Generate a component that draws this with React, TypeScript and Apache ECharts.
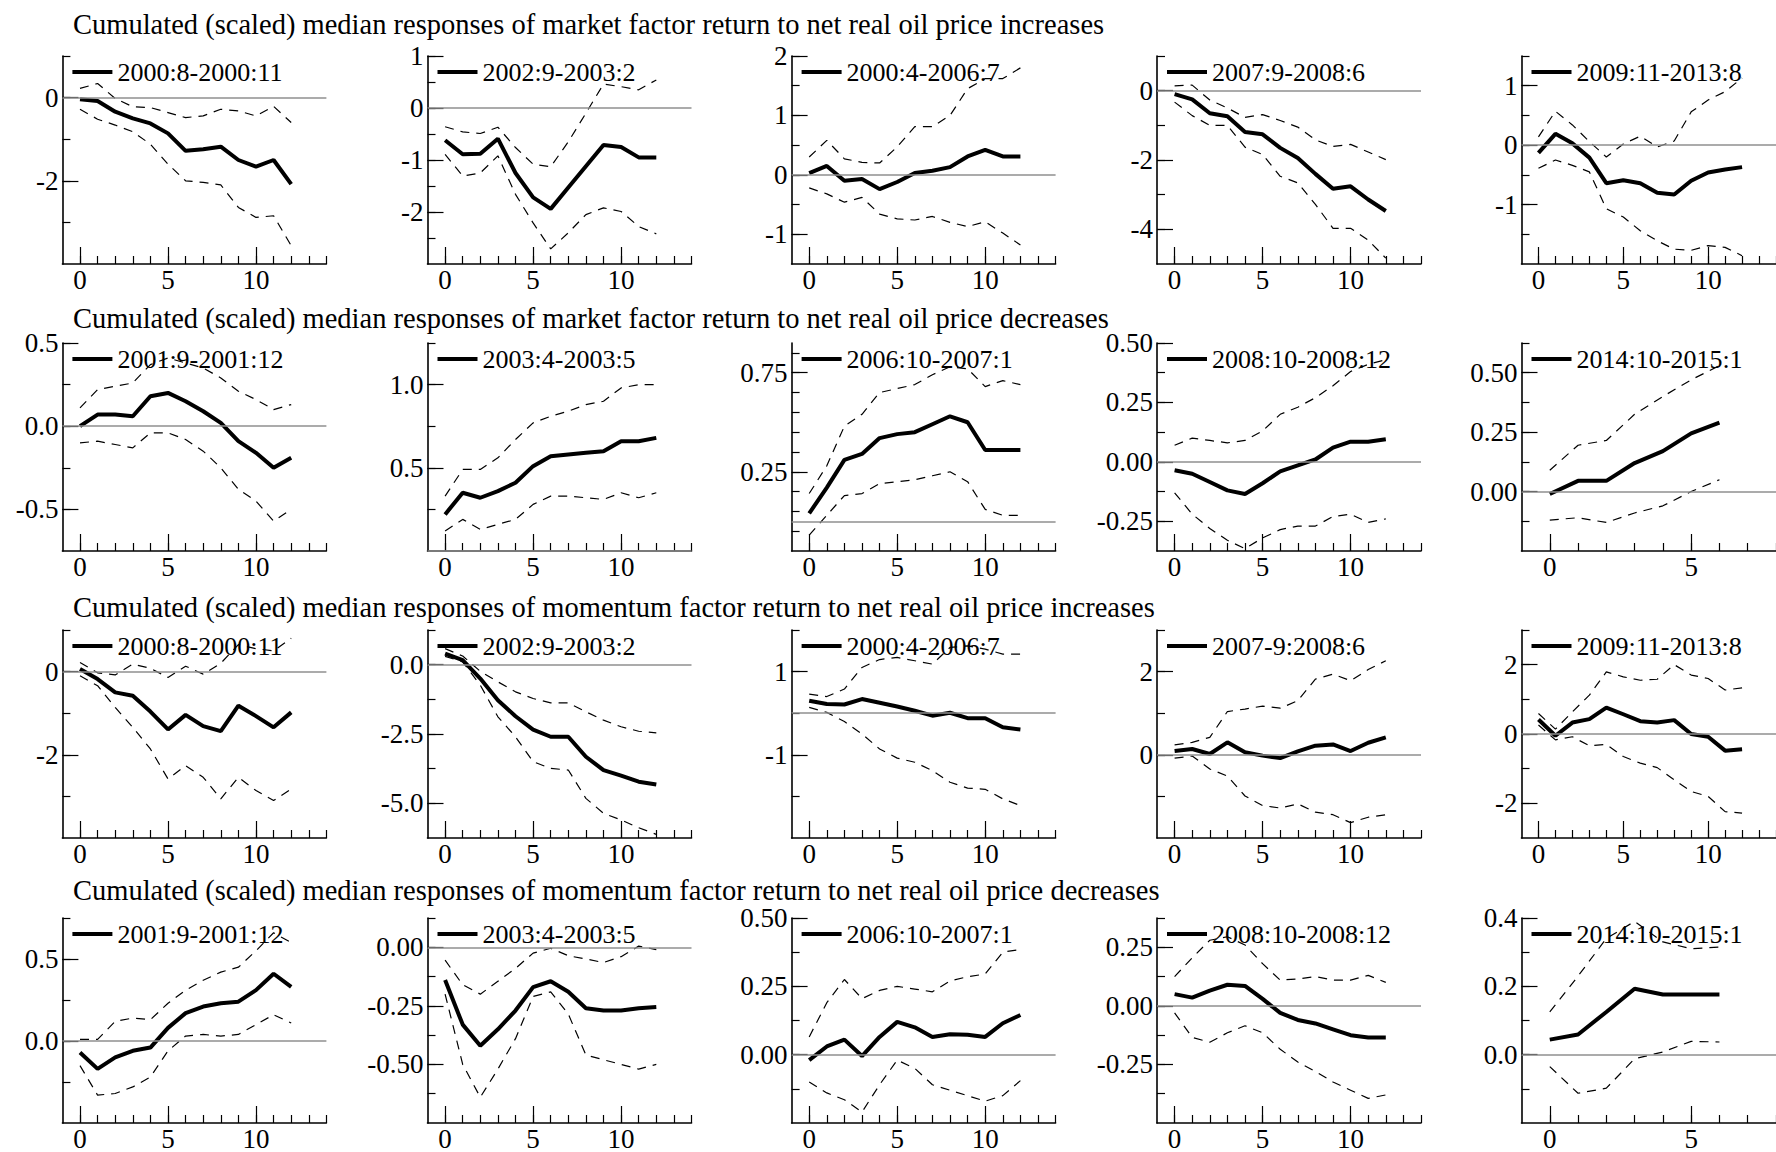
import React, { useEffect, useRef } from "react";
import * as echarts from "echarts";

const horizons = [0, 1, 2, 3, 4, 5, 6, 7, 8, 9, 10, 11, 12];

const rowTitles = [
  "Cumulated (scaled) median responses of market factor return to net real oil price increases",
  "Cumulated (scaled) median responses of market factor return to net real oil price decreases",
  "Cumulated (scaled) median responses of momentum factor return to net real oil price increases",
  "Cumulated (scaled) median responses of momentum factor return to net real oil price decreases",
];

const increasePeriods = ["2000:8-2000:11", "2002:9-2003:2", "2000:4-2006:7", "2007:9-2008:6", "2009:11-2013:8"];
const decreasePeriods = ["2001:9-2001:12", "2003:4-2003:5", "2006:10-2007:1", "2008:10-2008:12", "2014:10-2015:1"];
const momentumIncreasePeriods = ["2000:8-2000:11", "2002:9-2003:2", "2000:4-2006:7", "2007-9:2008:6", "2009:11-2013:8"];

// ---- Row 1: market factor, oil price increases
const marketIncreaseMedian = [
  [-0.04, -0.08, -0.34, -0.5, -0.62, -0.86, -1.28, -1.24, -1.18, -1.5, -1.66, -1.5, -2.08],
  [-0.62, -0.89, -0.88, -0.59, -1.25, -1.72, -1.94, -1.53, -1.12, -0.71, -0.75, -0.95, -0.95],
  [0.03, 0.15, -0.1, -0.07, -0.24, -0.12, 0.03, 0.07, 0.13, 0.31, 0.42, 0.31, 0.31],
  [-0.1, -0.25, -0.65, -0.74, -1.19, -1.26, -1.65, -1.94, -2.4, -2.83, -2.76, -3.14, -3.47],
  [-0.13, 0.19, 0.03, -0.21, -0.64, -0.59, -0.64, -0.8, -0.83, -0.6, -0.46, -0.41, -0.37],
];
const marketIncreaseUpper = [
  [0.22, 0.34, -0.02, -0.22, -0.24, -0.36, -0.48, -0.44, -0.28, -0.32, -0.44, -0.21, -0.6],
  [-0.36, -0.46, -0.49, -0.37, -0.76, -1.08, -1.13, -0.65, -0.1, 0.46, 0.41, 0.35, 0.54],
  [0.3, 0.58, 0.27, 0.21, 0.2, 0.47, 0.81, 0.81, 1.0, 1.45, 1.62, 1.62, 1.8],
  [0.14, 0.16, -0.27, -0.5, -0.77, -0.69, -0.86, -1.05, -1.42, -1.61, -1.55, -1.77, -1.99],
  [0.14, 0.57, 0.34, 0.06, -0.2, 0.02, 0.15, -0.03, 0.07, 0.56, 0.76, 0.9, 1.13],
];
const marketIncreaseLower = [
  [-0.28, -0.52, -0.66, -0.82, -1.12, -1.6, -2.0, -2.04, -2.1, -2.64, -2.88, -2.84, -3.56],
  [-0.89, -1.31, -1.25, -0.92, -1.66, -2.21, -2.71, -2.4, -2.05, -1.92, -1.99, -2.28, -2.42],
  [-0.22, -0.32, -0.46, -0.38, -0.66, -0.74, -0.76, -0.7, -0.8, -0.87, -0.79, -0.98, -1.18],
  [-0.33, -0.72, -1.0, -1.0, -1.63, -1.84, -2.47, -2.66, -3.28, -3.97, -3.97, -4.31, -4.83],
  [-0.39, -0.25, -0.34, -0.45, -1.07, -1.21, -1.44, -1.61, -1.75, -1.77, -1.69, -1.72, -1.86],
];

// ---- Row 2: market factor, oil price decreases
const marketDecreaseMedian = [
  [0.0, 0.07, 0.07, 0.06, 0.18, 0.2, 0.15, 0.09, 0.02, -0.09, -0.16, -0.25, -0.19],
  [0.22, 0.35, 0.32, 0.36, 0.41, 0.51, 0.57, 0.58, 0.59, 0.6, 0.66, 0.66, 0.68],
  [0.04, 0.17, 0.31, 0.34, 0.42, 0.44, 0.45, 0.49, 0.53, 0.5, 0.36, 0.36, 0.36],
  [-0.035, -0.05, -0.085, -0.12, -0.135, -0.09, -0.04, -0.015, 0.01, 0.06, 0.085, 0.085, 0.095],
  [-0.01, 0.045, 0.045, 0.12, 0.17, 0.245, 0.29],
];
const marketDecreaseUpper = [
  [0.11, 0.22, 0.24, 0.26, 0.37, 0.41, 0.38, 0.35, 0.29, 0.21, 0.16, 0.1, 0.13],
  [0.33, 0.49, 0.49, 0.56, 0.67, 0.77, 0.81, 0.84, 0.88, 0.9, 0.98, 1.0, 1.0],
  [0.14, 0.28, 0.48, 0.54, 0.65, 0.67, 0.69, 0.74, 0.78, 0.77, 0.68, 0.71, 0.69],
  [0.07, 0.1, 0.09, 0.08, 0.09, 0.13, 0.2, 0.23, 0.27, 0.32, 0.38, 0.41, 0.43],
  [0.09, 0.195, 0.215, 0.325, 0.4, 0.47, 0.53],
];
const marketDecreaseLower = [
  [-0.1, -0.09, -0.11, -0.13, -0.04, -0.04, -0.08, -0.15, -0.25, -0.38, -0.45, -0.57, -0.5],
  [0.12, 0.19, 0.13, 0.16, 0.19, 0.28, 0.33, 0.33, 0.32, 0.31, 0.35, 0.32, 0.35],
  [-0.07, 0.03, 0.13, 0.14, 0.19, 0.2, 0.21, 0.23, 0.25, 0.2, 0.06, 0.03, 0.03],
  [-0.13, -0.22, -0.28, -0.33, -0.365, -0.32, -0.285, -0.27, -0.27, -0.23, -0.22, -0.255, -0.24],
  [-0.12, -0.11, -0.13, -0.09, -0.06, 0.0, 0.05],
];

// ---- Row 3: momentum factor, oil price increases
const momentumIncreaseMedian = [
  [0.06, -0.18, -0.5, -0.58, -0.96, -1.39, -1.04, -1.31, -1.43, -0.82, -1.07, -1.34, -0.98],
  [0.4, 0.16, -0.5, -1.28, -1.86, -2.34, -2.6, -2.6, -3.32, -3.8, -4.0, -4.22, -4.32],
  [0.3, 0.22, 0.21, 0.34, 0.25, 0.16, 0.06, -0.06, 0.01, -0.12, -0.12, -0.34, -0.39],
  [0.09, 0.14, 0.02, 0.3, 0.06, -0.02, -0.08, 0.08, 0.22, 0.25, 0.09, 0.29, 0.42],
  [0.42, -0.05, 0.33, 0.43, 0.76, 0.57, 0.37, 0.33, 0.4, 0.0, -0.08, -0.48, -0.44],
];
const momentumIncreaseUpper = [
  [0.22, -0.03, -0.08, 0.18, 0.08, -0.14, 0.13, -0.06, 0.2, 0.65, 0.55, 0.5, 0.8],
  [0.58, 0.31, -0.24, -0.62, -0.98, -1.22, -1.38, -1.38, -1.7, -2.0, -2.24, -2.4, -2.46],
  [0.46, 0.4, 0.58, 1.1, 1.29, 1.34, 1.26, 1.18, 1.58, 1.62, 1.54, 1.42, 1.42],
  [0.24, 0.3, 0.42, 1.04, 1.1, 1.17, 1.12, 1.3, 1.82, 1.94, 1.78, 2.05, 2.26],
  [0.59, 0.14, 0.64, 1.12, 1.79, 1.65, 1.55, 1.58, 2.0, 1.7, 1.6, 1.27, 1.33],
];
const momentumIncreaseLower = [
  [-0.1, -0.34, -0.86, -1.34, -1.86, -2.58, -2.26, -2.54, -3.06, -2.54, -2.86, -3.1, -2.82],
  [0.3, 0.1, -0.74, -1.88, -2.6, -3.5, -3.74, -3.8, -4.82, -5.36, -5.6, -5.88, -6.12],
  [0.14, 0.02, -0.2, -0.5, -0.86, -1.08, -1.18, -1.38, -1.66, -1.8, -1.83, -2.06, -2.22],
  [-0.08, -0.03, -0.34, -0.51, -0.99, -1.22, -1.28, -1.18, -1.38, -1.44, -1.63, -1.5, -1.44],
  [0.26, -0.17, -0.08, -0.34, -0.3, -0.65, -0.84, -0.97, -1.32, -1.66, -1.8, -2.24, -2.28],
];

// ---- Row 4: momentum factor, oil price decreases
const momentumDecreaseMedian = [
  [-0.07, -0.17, -0.1, -0.06, -0.04, 0.08, 0.17, 0.21, 0.23, 0.24, 0.31, 0.41, 0.33],
  [-0.14, -0.33, -0.42, -0.35, -0.27, -0.17, -0.145, -0.19, -0.26, -0.27, -0.27, -0.26, -0.255],
  [-0.02, 0.03, 0.055, -0.005, 0.065, 0.12, 0.1, 0.065, 0.075, 0.073, 0.065, 0.115, 0.145],
  [0.05, 0.035, 0.065, 0.09, 0.085, 0.03, -0.03, -0.06, -0.075, -0.1, -0.125, -0.135, -0.135],
  [0.044, 0.059, 0.125, 0.193, 0.176, 0.176, 0.176],
];
const momentumDecreaseUpper = [
  [0.01, 0.01, 0.12, 0.14, 0.13, 0.23, 0.31, 0.37, 0.42, 0.45, 0.55, 0.66, 0.6],
  [-0.055, -0.16, -0.2, -0.145, -0.09, -0.025, -0.004, -0.036, -0.05, -0.065, -0.04, 0.005, -0.01],
  [0.065, 0.19, 0.275, 0.205, 0.235, 0.25, 0.24, 0.23, 0.27, 0.285, 0.295, 0.375, 0.385],
  [0.125, 0.205, 0.28, 0.295, 0.26, 0.18, 0.11, 0.115, 0.125, 0.11, 0.11, 0.13, 0.1],
  [0.125, 0.23, 0.34, 0.39, 0.33, 0.31, 0.315],
];
const momentumDecreaseLower = [
  [-0.15, -0.33, -0.32, -0.28, -0.22, -0.06, 0.03, 0.04, 0.03, 0.04, 0.1, 0.16, 0.11],
  [-0.2, -0.5, -0.64, -0.52, -0.39, -0.21, -0.19, -0.285, -0.46, -0.48, -0.5, -0.52, -0.5],
  [-0.1, -0.14, -0.165, -0.21, -0.11, -0.02, -0.05, -0.11, -0.13, -0.15, -0.17, -0.15, -0.095],
  [-0.03, -0.135, -0.155, -0.115, -0.085, -0.115, -0.185, -0.24, -0.28, -0.325, -0.36, -0.395, -0.38],
  [-0.035, -0.113, -0.098, -0.012, 0.008, 0.039, 0.037],
];

// ---- Y axis ranges and ticks per panel [row][col]
const yRanges = [
  [[-4, 1], [-3, 1], [-1.5, 2], [-5, 1], [-2, 1.5]],
  [[-0.75, 0.5], [0, 1.25], [-0.15, 0.9], [-0.375, 0.5], [-0.25, 0.625]],
  [[-4, 1], [-6.25, 1.25], [-3, 2], [-2, 3], [-3, 3]],
  [[-0.5, 0.75], [-0.75, 0.125], [-0.25, 0.5], [-0.5, 0.375], [-0.2, 0.4]],
];
const yMinorTicks = [
  [[1, 0, -1, -2, -3], [1, 0.5, 0, -0.5, -1, -1.5, -2, -2.5], [2, 1.5, 1, 0.5, 0, -0.5, -1], [1, 0, -1, -2, -3, -4], [1.5, 1, 0.5, 0, -0.5, -1, -1.5]],
  [[0.5, 0.25, 0, -0.25, -0.5], [1.25, 1, 0.75, 0.5, 0.25], [0.85, 0.75, 0.65, 0.55, 0.45, 0.35, 0.25, 0.15, 0.05, -0.05], [0.5, 0.375, 0.25, 0.125, 0, -0.125, -0.25], [0.625, 0.5, 0.375, 0.25, 0.125, 0, -0.125]],
  [[1, 0, -1, -2, -3], [1.25, 0, -1.25, -2.5, -3.75, -5], [2, 1, 0, -1, -2], [3, 2, 1, 0, -1], [3, 2, 1, 0, -1, -2]],
  [[0.75, 0.5, 0.25, 0, -0.25], [0.125, 0, -0.125, -0.25, -0.375, -0.5, -0.625], [0.5, 0.375, 0.25, 0.125, 0, -0.125], [0.375, 0.25, 0.125, 0, -0.125, -0.25, -0.375], [0.4, 0.3, 0.2, 0.1, 0, -0.1]],
];
const yLabelTicks = [
  [[0, -2], [1, 0, -1, -2], [2, 1, 0, -1], [0, -2, -4], [1, 0, -1]],
  [[0.5, 0, -0.5], [1, 0.5], [0.75, 0.25], [0.5, 0.25, 0, -0.25], [0.5, 0.25, 0]],
  [[0, -2], [0, -2.5, -5], [1, -1], [2, 0], [2, 0, -2]],
  [[0.5, 0], [0, -0.25, -0.5], [0.5, 0.25, 0], [0.25, 0, -0.25], [0.4, 0.2, 0]],
];
const yDecimals = [
  [0, 0, 0, 0, 0],
  [1, 1, 2, 2, 2],
  [0, 1, 0, 0, 0],
  [1, 2, 2, 2, 1],
];
const xLabelTicksLong = [0, 5, 10];
const xLabelTicksShort = [0, 5];

const rowsData = [
  { periods: increasePeriods, median: marketIncreaseMedian, upper: marketIncreaseUpper, lower: marketIncreaseLower },
  { periods: decreasePeriods, median: marketDecreaseMedian, upper: marketDecreaseUpper, lower: marketDecreaseLower },
  { periods: momentumIncreasePeriods, median: momentumIncreaseMedian, upper: momentumIncreaseUpper, lower: momentumIncreaseLower },
  { periods: decreasePeriods, median: momentumDecreaseMedian, upper: momentumDecreaseUpper, lower: momentumDecreaseLower },
];

// ---- layout (pixels)
const colLeft = [62.4, 427.5, 791.6, 1157, 1521.5];
const rowTop = [56, 343, 630, 918];
const titleCenter = [24.5, 318, 607, 890];
const gridW = 264;
const gridH = 208;
const FONT = "'Liberation Serif', 'Times New Roman', serif";
const TITLE_SIZE = 28.5;
const TICK_SIZE = 27;
const LEGEND_SIZE = 26;

function pairs(vals: number[]) {
  return vals.map((v, i) => [horizons[i], v]);
}

function buildOption() {
  const grids: any[] = [];
  const xAxes: any[] = [];
  const yAxes: any[] = [];
  const series: any[] = [];
  const legends: any[] = [];
  const tickLine = { color: "#000", width: 1.2 };

  rowsData.forEach((row, r) => {
    row.median.forEach((med, c) => {
      const g = grids.length;
      grids.push({ left: colLeft[c], top: rowTop[r], width: gridW, height: gridH });
      const short = med.length < 10;
      const xMax = short ? 8 : 14;
      const xMinor: number[] = [];
      for (let i = 0; i <= xMax; i++) xMinor.push(i);
      const xMajor = short ? xLabelTicksShort : xLabelTicksLong;
      const [yMin, yMax] = yRanges[r][c];
      const dec = yDecimals[r][c];

      xAxes.push({
        type: "value", gridIndex: g, min: -1, max: xMax, position: "bottom",
        axisLine: { show: true, onZero: false, lineStyle: { color: "#000", width: 1.6 } },
        axisTick: { show: true, inside: true, length: 8, customValues: xMinor, lineStyle: tickLine },
        axisLabel: { show: false }, splitLine: { show: false },
      });
      xAxes.push({
        type: "value", gridIndex: g, min: -1, max: xMax, position: "bottom",
        axisLine: { show: false, onZero: false },
        axisTick: { show: true, inside: true, length: 17, customValues: xMajor, lineStyle: tickLine },
        axisLabel: {
          show: true, customValues: xMajor, margin: 2, fontFamily: FONT, fontSize: TICK_SIZE, color: "#000",
          formatter: (v: number) => String(v),
        },
        splitLine: { show: false },
      });
      yAxes.push({
        type: "value", gridIndex: g, min: yMin, max: yMax, position: "left",
        axisLine: { show: true, onZero: false, lineStyle: { color: "#000", width: 1.6 } },
        axisTick: { show: true, inside: true, length: 8, customValues: yMinorTicks[r][c], lineStyle: tickLine },
        axisLabel: { show: false }, splitLine: { show: false },
      });
      yAxes.push({
        type: "value", gridIndex: g, min: yMin, max: yMax, position: "left",
        axisLine: { show: false, onZero: false },
        axisTick: { show: true, inside: true, length: 16, customValues: yLabelTicks[r][c], lineStyle: tickLine },
        axisLabel: {
          show: true, customValues: yLabelTicks[r][c], margin: 4, fontFamily: FONT, fontSize: TICK_SIZE, color: "#000",
          formatter: (v: number) => Number(v).toFixed(dec),
        },
        splitLine: { show: false },
      });

      const name = row.periods[c];
      const common = {
        type: "line", xAxisIndex: 2 * g, yAxisIndex: 2 * g, symbol: "none", showSymbol: false,
        silent: true, emphasis: { disabled: true }, animation: false,
      };
      series.push({
        ...common, name: name + " upper " + g, data: pairs(row.upper[c]), z: 2,
        lineStyle: { color: "#000", width: 1.2, type: [9, 7] }, itemStyle: { color: "#000" },
        markLine: {
          silent: true, symbol: ["none", "none"], label: { show: false }, animation: false,
          lineStyle: { color: "#8f8f8f", width: 1.5, type: "solid" },
          emphasis: { disabled: true },
          data: [{ yAxis: 0 }],
        },
      });
      series.push({
        ...common, name: name + " lower " + g, data: pairs(row.lower[c]), z: 2,
        lineStyle: { color: "#000", width: 1.2, type: [9, 7] }, itemStyle: { color: "#000" },
      });
      series.push({
        ...common, name, data: pairs(med), z: 3,
        lineStyle: { color: "#000", width: 4 }, itemStyle: { color: "#000" },
      });

      legends.push({
        show: true, left: colLeft[c] + 10, top: rowTop[r] + 3, padding: 0,
        itemWidth: 40, itemHeight: 4, itemGap: 0, selectedMode: false,
        data: [{ name, icon: "rect", itemStyle: { color: "#000", borderWidth: 0 } }],
        textStyle: { fontFamily: FONT, fontSize: LEGEND_SIZE, color: "#000", padding: [0, 0, 0, 0] },
      });
    });
  });

  const titles = rowTitles.map((t, i) => ({
    text: t, left: 73, top: titleCenter[i] - 14.4, padding: 0,
    textStyle: { fontFamily: FONT, fontSize: TITLE_SIZE, fontWeight: "normal", color: "#000" },
  }));

  return {
    animation: false,
    backgroundColor: "#fff",
    title: titles,
    grid: grids,
    xAxis: xAxes,
    yAxis: yAxes,
    legend: legends,
    series,
  };
}

export default function App() {
  const ref = useRef<HTMLDivElement>(null);
  useEffect(() => {
    if (!ref.current) return;
    const chart = echarts.init(ref.current, null, { renderer: "svg" });
    chart.setOption(buildOption() as any);
    return () => chart.dispose();
  }, []);
  return (
    <div
      ref={ref}
      style={{ position: "absolute", left: 0, top: 0, width: 1776, height: 1152, background: "#fff" }}
    />
  );
}
